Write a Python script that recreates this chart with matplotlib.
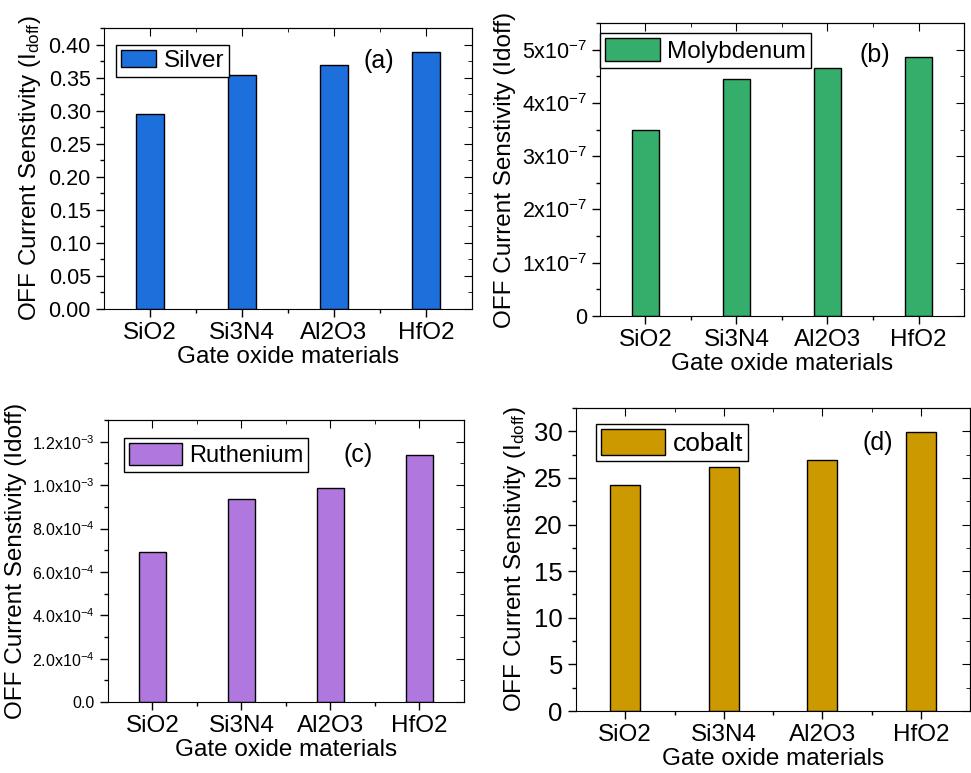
import numpy as np
import matplotlib
matplotlib.use("Agg")
from matplotlib import pyplot as plt
from matplotlib.ticker import MultipleLocator, FuncFormatter

plt.rcParams['font.family'] = ['Liberation Sans', 'DejaVu Sans']
plt.rcParams['mathtext.fontset'] = 'custom'
plt.rcParams['mathtext.rm'] = 'Liberation Sans'
plt.rcParams['mathtext.it'] = 'Liberation Sans'

materials = ['SiO2', 'Si3N4', 'Al2O3', 'HfO2']

silver = [0.295, 0.354, 0.369, 0.389]
molybdenum = [3.50e-7, 4.44e-7, 4.66e-7, 4.86e-7]
ruthenium = [6.91e-4, 9.34e-4, 9.89e-4, 1.141e-3]
cobalt = [24.24, 26.17, 26.96, 29.89]

ylabel_sub = r'OFF Current Senstivity (I$_{\mathrm{doff}}$)'
ylabel_plain = 'OFF Current Senstivity (Idoff)'


def sci_b(v, pos):
    if abs(v) < 1e-12:
        return '0'
    return r'$\mathregular{%dx10^{-7}}$' % round(v / 1e-7)


def sci_c(v, pos):
    if abs(v) < 1e-12:
        return '0.0'
    e = int(np.floor(np.log10(abs(v)) + 1e-9))
    return r'$\mathregular{%.1fx10^{%d}}$' % (v / 10**e, e)


def bar_panel(ax, vals, color, name, tag, ylabel, ymax, major, minor,
              fmt, tick_fs, leg_xy, leg_fs, handle, tag_xy):
    x = np.arange(len(materials))
    ax.bar(x, vals, width=0.3, color=color, edgecolor='black', linewidth=1,
           label=name)
    ax.set_xlim(-0.5, 3.5)
    ax.set_ylim(0, ymax)
    ax.set_xticks(x)
    ax.set_xticklabels(materials, fontsize=17.5)
    ax.set_xticks(x[:-1] + 0.5, minor=True)
    ax.yaxis.set_major_locator(MultipleLocator(major))
    ax.yaxis.set_minor_locator(MultipleLocator(minor))
    if fmt is not None:
        ax.yaxis.set_major_formatter(FuncFormatter(fmt))
    ax.tick_params(axis='y', labelsize=tick_fs)
    ax.tick_params(which='major', direction='out', length=6, width=1)
    ax.tick_params(which='minor', direction='out', length=3, width=1)
    # mirrored ticks on top/right point inward
    sec_y = ax.secondary_yaxis('right')
    sec_y.yaxis.set_major_locator(MultipleLocator(major))
    sec_y.yaxis.set_minor_locator(MultipleLocator(minor))
    sec_y.tick_params(which='both', direction='in', labelright=False)
    sec_y.tick_params(which='major', length=6)
    sec_y.tick_params(which='minor', length=3)
    sec_x = ax.secondary_xaxis('top')
    sec_x.set_xticks(x)
    sec_x.set_xticks(x[:-1] + 0.5, minor=True)
    sec_x.tick_params(which='both', direction='in', labeltop=False)
    sec_x.tick_params(which='major', length=6)
    sec_x.tick_params(which='minor', length=3)
    ax.set_xlabel('Gate oxide materials', fontsize=17.5, labelpad=1)
    ax.set_ylabel(ylabel, fontsize=17.5, labelpad=4)
    leg = ax.legend(loc='upper left', bbox_to_anchor=leg_xy, fontsize=leg_fs,
                    fancybox=False, edgecolor='black', framealpha=1,
                    borderaxespad=0, handlelength=handle[0],
                    handleheight=handle[1], borderpad=0.2, handletextpad=0.3)
    leg.get_frame().set_linewidth(1)
    ax.text(tag_xy[0], tag_xy[1], tag, transform=ax.transAxes, fontsize=18,
            ha='center', va='center')


fig = plt.figure(figsize=(9.71, 7.73), dpi=100)

ax_a = fig.add_axes([0.1071, 0.6003, 0.379, 0.3635])
bar_panel(ax_a, silver, '#1d6fdc', 'Silver', '(a)', ylabel_sub, 0.425,
          0.05, 0.025, lambda v, p: '%.2f' % v, 15.5, (0.033, 0.94), 17.5,
          (1.45, 0.7), (0.747, 0.883))

ax_b = fig.add_axes([0.6179, 0.5912, 0.3749, 0.379])
bar_panel(ax_b, molybdenum, '#36ae6b', 'Molybdenum', '(b)', ylabel_plain,
          5.5e-7, 1e-7, 0.5e-7, sci_b, 15.5, (0.0, 0.966), 17.5,
          (2.25, 1.1), (0.755, 0.891))

ax_c = fig.add_axes([0.1112, 0.0918, 0.3666, 0.3648])
bar_panel(ax_c, ruthenium, '#b078de', 'Ruthenium', '(c)', ylabel_plain,
          1.3e-3, 2e-4, 1e-4, sci_c, 11.5, (0.045, 0.937), 17,
          (2.25, 1.1), (0.702, 0.876))

ax_d = fig.add_axes([0.5932, 0.0802, 0.4058, 0.392])
bar_panel(ax_d, cobalt, '#cc9a00', 'cobalt', '(d)', ylabel_sub, 32.5,
          5, 2.5, None, 18.5, (0.051, 0.947), 19,
          (2.4, 1.1), (0.766, 0.884))

fig.savefig('out.png', dpi=100)
